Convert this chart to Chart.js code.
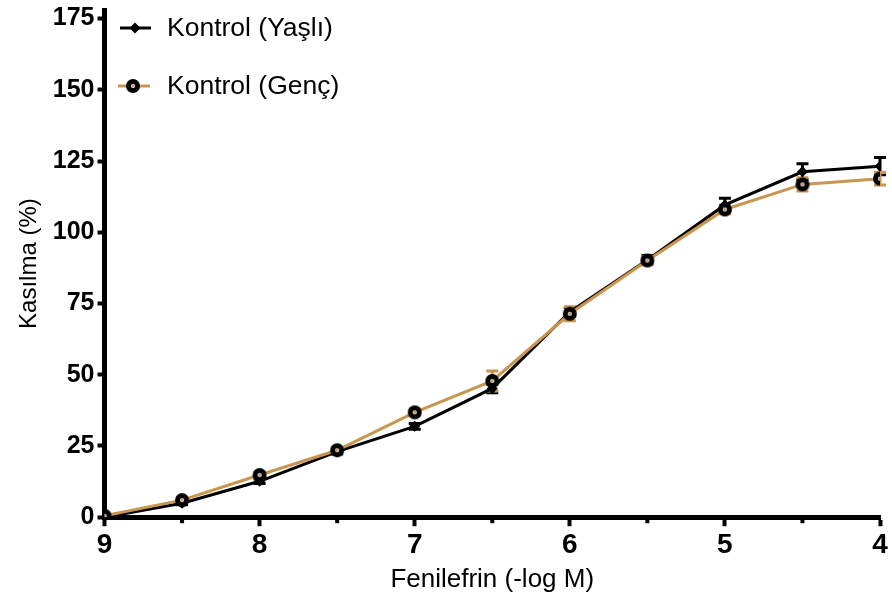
<!DOCTYPE html>
<html>
<head>
<meta charset="utf-8">
<script src="https://cdn.jsdelivr.net/npm/chart.js@4/dist/chart.umd.min.js"></script>
<style>
html,body{margin:0;padding:0;background:#fff;}
#wrap{width:892px;height:606px;position:relative;}
</style>
</head>
<body>
<div id="wrap"><canvas id="c" width="892" height="606"></canvas></div>
<script>
// ---- Data ----
const doses = [9, 8.5, 8, 7.5, 7, 6.5, 6, 5.5, 5, 4.5, 4];
const yasliValues = [0, 4.9, 12.6, 23, 31.9, 45.2, 72, 90.3, 109.6, 121.2, 123.2];
const yasliErrors = [0, 0.5, 0.8, 0.8, 1, 1.5, 1.5, 1.5, 2.3, 2.8, 3];
const gencValues  = [0.5, 6, 14.8, 23.5, 36.8, 47.8, 71.4, 90.1, 108, 116.8, 118.8];
const gencErrors  = [0, 0.8, 1, 1, 1.2, 3.5, 2.5, 1.5, 1.5, 2.3, 2.2];
const seriesNames = ['Kontrol (Yaşlı)', 'Kontrol (Genç)'];
const yTicks = [0, 25, 50, 75, 100, 125, 150, 175];
const xTicks = [9, 8, 7, 6, 5, 4];
const xMinorTicks = [8.5, 7.5, 6.5, 5.5, 4.5];

const BLACK = '#000000';
const TAN = '#C8964F';

// custom marker for Genç: black disc with small tan centre dot
function makeCircleMarker(){
  const c = document.createElement('canvas');
  c.width = 16; c.height = 16;
  const g = c.getContext('2d');
  g.fillStyle = BLACK;
  g.beginPath(); g.arc(8, 8, 7, 0, Math.PI*2); g.fill();
  g.fillStyle = '#ffffff';
  g.beginPath(); g.arc(8, 8, 2.1, 0, Math.PI*2); g.fill();
  g.fillStyle = TAN;
  g.beginPath(); g.arc(8, 8, 1.4, 0, Math.PI*2); g.fill();
  return c;
}
const circleMarker = makeCircleMarker();

const toXY = (vals) => doses.map((d, i) => ({x: d, y: vals[i]}));

const errorBarPlugin = {
  id: 'errorBars',
  beforeDatasetsDraw(chart){
    const ctx = chart.ctx;
    const xs = chart.scales.x, ys = chart.scales.y;
    const sets = [
      {vals: yasliValues, errs: yasliErrors, color: BLACK},
      {vals: gencValues, errs: gencErrors, color: TAN}
    ];
    ctx.save();
    sets.forEach(s => {
      ctx.strokeStyle = s.color;
      ctx.lineWidth = 3;
      s.vals.forEach((v, i) => {
        const e = s.errs[i];
        if (!e) return;
        const px = xs.getPixelForValue(doses[i]);
        const top = ys.getPixelForValue(v + e);
        const bot = ys.getPixelForValue(v - e);
        ctx.beginPath();
        ctx.moveTo(px, top); ctx.lineTo(px, bot);
        ctx.moveTo(px - 6, top); ctx.lineTo(px + 6, top);
        ctx.moveTo(px - 6, bot); ctx.lineTo(px + 6, bot);
        ctx.stroke();
      });
    });
    ctx.restore();
  }
};

const minorTickPlugin = {
  id: 'minorTicks',
  afterDraw(chart){
    const ctx = chart.ctx;
    const xs = chart.scales.x;
    const y0 = chart.chartArea.bottom;
    ctx.save();
    ctx.strokeStyle = BLACK;
    ctx.lineWidth = 4;
    xMinorTicks.forEach(t => {
      const px = xs.getPixelForValue(t);
      ctx.beginPath(); ctx.moveTo(px, y0); ctx.lineTo(px, y0 + 6); ctx.stroke();
    });
    ctx.restore();
  }
};

const legendPlugin = {
  id: 'customLegend',
  afterDraw(chart){
    const ctx = chart.ctx;
    ctx.save();
    // item 1
    let y = 28;
    ctx.strokeStyle = BLACK; ctx.lineWidth = 3;
    ctx.beginPath(); ctx.moveTo(120, y); ctx.lineTo(151, y); ctx.stroke();
    ctx.fillStyle = BLACK;
    ctx.beginPath(); ctx.moveTo(135, y-5.5); ctx.lineTo(140.5, y); ctx.lineTo(135, y+5.5); ctx.lineTo(129.5, y); ctx.closePath(); ctx.fill();
    ctx.font = '26.5px "Liberation Sans", Arial, sans-serif';
    ctx.textBaseline = 'middle';
    ctx.fillText(seriesNames[0], 167, y + 1);
    // item 2
    y = 86;
    ctx.strokeStyle = TAN; ctx.lineWidth = 3;
    ctx.beginPath(); ctx.moveTo(118, y); ctx.lineTo(150, y); ctx.stroke();
    ctx.drawImage(circleMarker, 133 - 8, y - 8);
    ctx.fillStyle = BLACK;
    ctx.fillText(seriesNames[1], 167, y + 1);
    ctx.restore();
  }
};

new Chart(document.getElementById('c'), {
  type: 'line',
  data: {
    datasets: [
      {
        label: seriesNames[1],
        data: toXY(gencValues),
        borderColor: TAN,
        borderWidth: 3,
        pointStyle: circleMarker,
        pointRadius: 7,
        tension: 0,
        order: 0
      },
      {
        label: seriesNames[0],
        data: toXY(yasliValues),
        borderColor: BLACK,
        backgroundColor: BLACK,
        borderWidth: 3,
        pointStyle: 'rectRot',
        pointRadius: 5.5,
        pointBorderWidth: 0,
        tension: 0,
        order: 1
      }
    ]
  },
  options: {
    responsive: false,
    animation: false,
    layout: {padding: {top: 2, right: 12, left: 15, bottom: 7}},
    plugins: {legend: {display: false}, tooltip: {enabled: false}},
    scales: {
      x: {
        type: 'linear',
        reverse: true,
        min: 4, max: 9,
        afterBuildTicks: (s) => { s.ticks = xTicks.map(v => ({value: v})); },
        ticks: {
          color: BLACK,
          font: {family: '"Liberation Sans Narrow", "Liberation Sans", Arial, sans-serif', size: 28, weight: 'bold'},
          padding: 2,
          maxRotation: 0,
          callback: (v) => String(v)
        },
        grid: {drawOnChartArea: false, drawTicks: true, tickLength: 9, tickWidth: 4, tickColor: BLACK},
        border: {display: true, color: BLACK, width: 5},
        title: {display: true, text: 'Fenilefrin (-log M)', color: BLACK,
          font: {family: '"Liberation Sans", Arial, sans-serif', size: 26}, padding: {top: 0, bottom: 4}}
      },
      y: {
        type: 'linear',
        min: 0, max: 178,
        afterBuildTicks: (s) => { s.ticks = yTicks.map(v => ({value: v})); },
        afterFit: (s) => { s.paddingTop = 0; },
        ticks: {
          color: BLACK,
          font: {family: '"Liberation Sans", Arial, sans-serif', size: 25, weight: 'bold'},
          padding: 3,
          callback: (v) => String(v)
        },
        grid: {drawOnChartArea: false, drawTicks: true, tickLength: 7, tickWidth: 4, tickColor: BLACK},
        border: {display: true, color: BLACK, width: 5},
        title: {display: true, text: 'Kasılma (%)', color: BLACK,
          font: {family: '"Liberation Sans", Arial, sans-serif', size: 24}, padding: {top: 0, bottom: 6}}
      }
    }
  },
  plugins: [errorBarPlugin, minorTickPlugin, legendPlugin]
});
</script>
</body>
</html>
